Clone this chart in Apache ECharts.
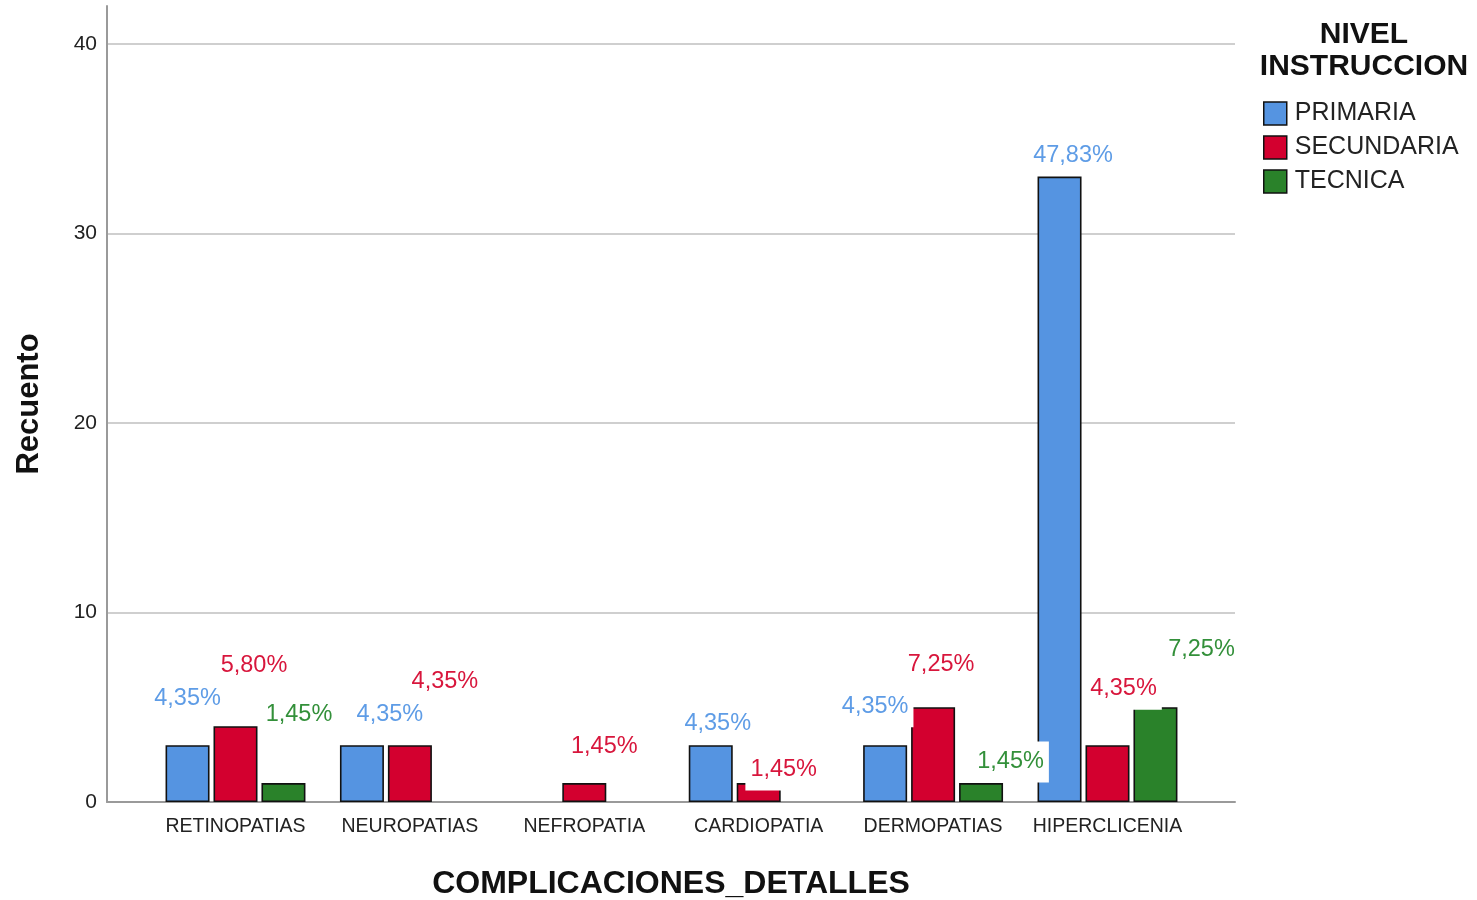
<!DOCTYPE html>
<html>
<head>
<meta charset="utf-8">
<script src="https://cdn.jsdelivr.net/npm/echarts@6/dist/echarts.min.js"></script>
<style>
html,body{margin:0;padding:0;background:#fff;}
#chart{width:1477px;height:900px;}
</style>
</head>
<body>
<div id="chart"></div>
<script>
// ---- data ----
const categories = ['RETINOPATIAS', 'NEUROPATIAS', 'NEFROPATIA', 'CARDIOPATIA', 'DERMOPATIAS', 'HIPERCLICENIA'];
const seriesNames = ['PRIMARIA', 'SECUNDARIA', 'TECNICA'];
const primaria   = [3, 3, null, 3, 3, 33];
const secundaria = [4, 3, 1, 1, 5, 3];
const tecnica    = [1, null, null, null, 1, 5];
const yTicks = [0, 10, 20, 30, 40];

// label placement offsets (style only, not data)
const offPrimaria   = [[0,-21],[28,-5],[0,0],[7,4],[-10,-13],[13.5,4.5]];
const offSecundaria = [[18.5,-35],[35,-38],[20,-11],[25,12.5],[8,-17],[16,-30.5]];
const offTecnica    = [[15.5,-43],[0,0],[0,0],[0,0],[29.5,4.5],[46,-32]];

const barColors = ['#5594E1', '#D3002F', '#2A822A'];
const labelColors = ['#5E9CE6', '#D8163C', '#33903A'];
const FONT = '"Liberation Sans", Arial, sans-serif';

const total = [primaria, secundaria, tecnica].flat().reduce((a, v) => a + (v || 0), 0);
const pct = v => (v / total * 100).toFixed(2).replace('.', ',') + '%';

function mkSeries(name, vals, offs, idx) {
  return {
    name: name,
    type: 'bar',
    xAxisIndex: 1,
    yAxisIndex: 1,
    barWidth: 44,
    barGap: '9%',
    itemStyle: { color: barColors[idx], borderColor: '#111', borderWidth: 1.6 },
    emphasis: { disabled: true },
    data: vals.map((v, i) => v == null ? null : {
      value: v,
      label: { offset: offs[i] }
    }),
    label: {
      show: true,
      position: 'top',
      distance: 5,
      fontFamily: FONT,
      fontSize: 23.5,
      lineHeight: 24,
      color: labelColors[idx],
      backgroundColor: '#ffffff',
      padding: [8, 5, 9, 5],
      formatter: p => pct(p.value)
    }
  };
}

const chart = echarts.init(document.getElementById('chart'), null, { renderer: 'canvas' });
const option = {
  animation: false,
  backgroundColor: '#ffffff',
  title: {
    text: 'NIVEL\nINSTRUCCION',
    left: 1364,
    top: 19,
    padding: 0,
    textAlign: 'center',
    textStyle: { fontFamily: FONT, fontSize: 30, fontWeight: 'bold', lineHeight: 32, color: '#111' }
  },
  legend: {
    orient: 'vertical',
    left: 1263,
    top: 101,
    padding: 0,
    itemWidth: 23,
    itemHeight: 23,
    itemGap: 9,
    icon: 'rect',
    selectedMode: false,
    data: seriesNames,
    itemStyle: { borderColor: '#111', borderWidth: 1.5 },
    textStyle: { fontFamily: FONT, fontSize: 25, color: '#222', padding: [0, 0, 0, 3] }
  },
  grid: [
    { left: 107, right: 242, top: 6, bottom: 98, containLabel: false, outerBoundsMode: 'none' },
    { left: 148.3, right: 282.3, top: 6, bottom: 98, containLabel: false, outerBoundsMode: 'none' }
  ],
  xAxis: [
    {
      gridIndex: 0,
      type: 'category',
      data: [''],
      axisLine: { show: true, lineStyle: { color: '#9a9a9a', width: 2 } },
      axisTick: { show: false },
      axisLabel: { show: false },
      splitLine: { show: false },
      name: 'COMPLICACIONES_DETALLES',
      nameLocation: 'middle',
      nameGap: 66,
      nameTextStyle: { fontFamily: FONT, fontSize: 32, fontWeight: 'bold', color: '#111' }
    },
    {
      gridIndex: 1,
      type: 'category',
      data: categories,
      axisLine: { show: false },
      axisTick: { show: false },
      axisLabel: { fontFamily: FONT, fontSize: 19.5, color: '#222', margin: 15, interval: 0 },
      splitLine: { show: false }
    }
  ],
  yAxis: [
    {
      gridIndex: 0,
      type: 'value',
      min: yTicks[0],
      max: 42,
      interval: 10,
      axisLine: { show: true, lineStyle: { color: '#9a9a9a', width: 2 } },
      axisTick: { show: false },
      axisLabel: {
        fontFamily: FONT, fontSize: 21, color: '#222', margin: 10,
        padding: [5, 0, 0, 0],
        showMaxLabel: false,
        formatter: v => yTicks.indexOf(v) >= 0 ? String(v) : ''
      },
      splitLine: {
        show: true,
        lineStyle: { color: ['#cfcfcf', '#cfcfcf', '#cfcfcf', '#cfcfcf', '#cfcfcf', 'rgba(0,0,0,0)'], width: 2 }
      },
      name: 'Recuento',
      nameLocation: 'middle',
      nameGap: 62,
      nameTextStyle: { fontFamily: FONT, fontSize: 31, fontWeight: 'bold', color: '#111' }
    },
    {
      gridIndex: 1,
      type: 'value',
      min: 0,
      max: 42,
      show: false
    }
  ],
  series: [
    mkSeries(seriesNames[0], primaria, offPrimaria, 0),
    mkSeries(seriesNames[1], secundaria, offSecundaria, 1),
    mkSeries(seriesNames[2], tecnica, offTecnica, 2)
  ]
};
chart.setOption(option);
</script>
</body>
</html>
